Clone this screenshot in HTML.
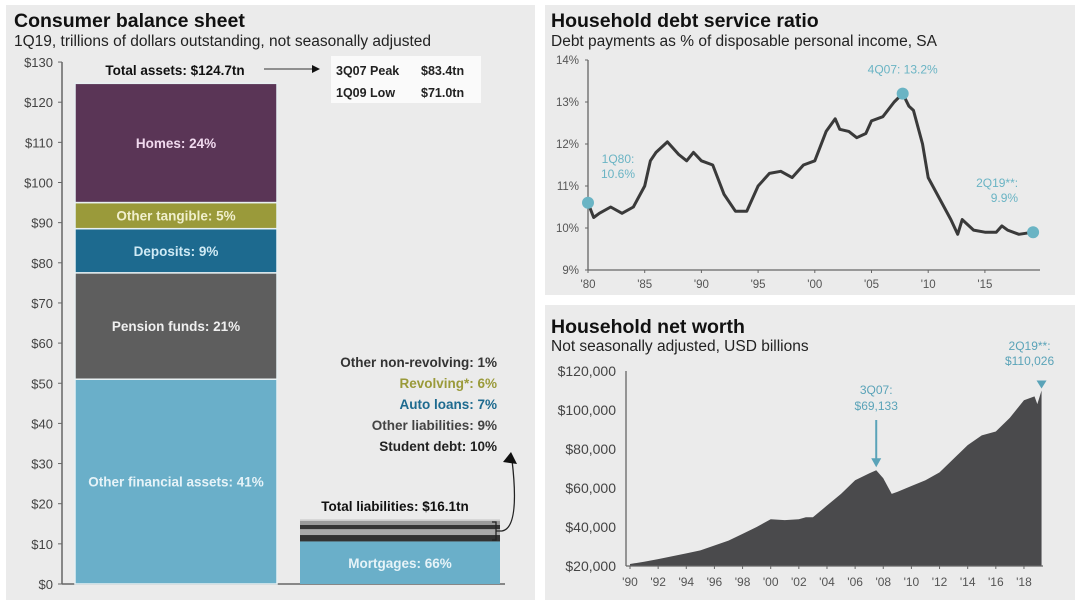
<!DOCTYPE html>
<html><head><meta charset="utf-8"><style>
body{margin:0;background:#fff;width:1080px;height:603px;overflow:hidden;font-family:"Liberation Sans",sans-serif}
svg{display:block}
</style></head><body>
<svg width="1080" height="603" viewBox="0 0 1080 603">
<rect x="6" y="5" width="529" height="595" fill="#ebebeb"/>
<rect x="545" y="5" width="530" height="290" fill="#ebebeb"/>
<rect x="545" y="305" width="530" height="295" fill="#ebebeb"/>

<text x="14" y="27" font-size="19.5" font-weight="bold" fill="#111">Consumer balance sheet</text>
<text x="14" y="46" font-size="15.5" fill="#222">1Q19, trillions of dollars outstanding, not seasonally adjusted</text>
<g id="left"></g>

<text x="551" y="27" font-size="19.5" font-weight="bold" fill="#111">Household debt service ratio</text>
<text x="551" y="46" font-size="15.5" fill="#222">Debt payments as % of disposable personal income, SA</text>
<g id="dsr"></g>

<text x="551" y="333" font-size="19.5" font-weight="bold" fill="#111">Household net worth</text>
<text x="551" y="351" font-size="15.5" fill="#222">Not seasonally adjusted, USD billions</text>
<g id="nw"></g>
</svg>
<script>
const NS="http://www.w3.org/2000/svg";
function mk(p,tag,at,txt){const e=document.createElementNS(NS,tag);for(const k in at)e.setAttribute(k,at[k]);if(txt!==undefined)e.textContent=txt;p.appendChild(e);return e;}

// ---------- Balance sheet ----------
const assetNames=["Other financial assets: 41%","Pension funds: 21%","Deposits: 9%","Other tangible: 5%","Homes: 24%"];
const assetValues=[51.0,26.5,11.0,6.5,29.7];
const assetColors=["#6aafc9","#5e5e5e","#1d6a8f","#9a9a3a","#5a3556"];
const assetText=["#e6f3f8","#f0f0f0","#cfeaf5","#f0efcc","#f0d9ee"];
const liabValues=[10.6,1.6,1.45,1.1,1.0,0.35];
const liabColors=["#6aafc9","#333","#aaa","#333","#999","#ccc"];
const balTicks=[0,10,20,30,40,50,60,70,80,90,100,110,120,130];
const L=document.getElementById('left');
const by=v=>584-v*4.015;
mk(L,'line',{x1:62,y1:by(130),x2:62,y2:by(0),stroke:'#666','stroke-width':1.5});
mk(L,'line',{x1:62,y1:by(0),x2:505,y2:by(0),stroke:'#666','stroke-width':1.5});
balTicks.forEach(t=>{mk(L,'line',{x1:58,y1:by(t),x2:62,y2:by(t),stroke:'#666'});
 const tx=mk(L,'text',{x:53,y:by(t)+5,'font-size':13,fill:'#444','text-anchor':'end'},'$'+t);
 
 });
let cum=0;
assetValues.forEach((v,i)=>{const r=mk(L,'rect',{x:75,y:by(cum+v),width:202,height:v*4.015,fill:assetColors[i],stroke:'#e8f0f2','stroke-width':1.5});
 
 
 const t=mk(L,'text',{x:176,y:by(cum+v/2)+5,'font-size':13.5,'font-weight':'bold',fill:assetText[i],'text-anchor':'middle'},assetNames[i]);
 
 
 cum+=v;});
cum=0;
liabValues.forEach((v,i)=>{const r=mk(L,'rect',{x:300,y:by(cum+v),width:200,height:v*4.015,fill:liabColors[i]});
 
 
 cum+=v;});
mk(L,'text',{x:400,y:568,'font-size':13.5,'font-weight':'bold',fill:'#e6f3f8','text-anchor':'middle'},'Mortgages: 66%');
mk(L,'text',{x:395,y:511,'font-size':13.5,'font-weight':'bold',fill:'#111','text-anchor':'middle'},'Total liabilities: $16.1tn');
mk(L,'text',{x:175,y:75,'font-size':13.5,'font-weight':'bold',fill:'#111','text-anchor':'middle'},'Total assets: $124.7tn');
mk(L,'line',{x1:264,y1:69,x2:312,y2:69,stroke:'#333'});
mk(L,'polygon',{points:'312,65 320,69 312,73',fill:'#111'});
mk(L,'rect',{x:331,y:56,width:150,height:47,fill:'#fafafa'});
mk(L,'text',{x:336,y:75,'font-size':12.5,'font-weight':'bold',fill:'#222'},'3Q07 Peak');
mk(L,'text',{x:421,y:75,'font-size':12.5,'font-weight':'bold',fill:'#222'},'$83.4tn');
mk(L,'text',{x:336,y:97,'font-size':12.5,'font-weight':'bold',fill:'#222'},'1Q09 Low');
mk(L,'text',{x:421,y:97,'font-size':12.5,'font-weight':'bold',fill:'#222'},'$71.0tn');
const lg=[["Other non-revolving: 1%","#333"],["Revolving*: 6%","#9a9a3a"],["Auto loans: 7%","#1d6a8f"],["Other liabilities: 9%","#444"],["Student debt: 10%","#222"]];
lg.forEach((d,i)=>{const t=mk(L,'text',{x:497,y:367+i*21,'font-size':13.5,'font-weight':'bold',fill:d[1],'text-anchor':'end'},d[0]);
 
 });
mk(L,'path',{d:'M492,522 h4 v18 h-4 M496,531 h6 Q520,528 512,460',fill:'none',stroke:'#222','stroke-width':1.3});
mk(L,'polygon',{points:'503,462 511,452 517,464',fill:'#111'});

// ---------- DSR ----------
const dsrYears=[1980,1980.5,1981,1982,1983,1984,1985,1985.5,1986,1987,1988,1988.7,1989.3,1990,1991,1992,1993,1994,1995,1996,1997,1998,1999,2000,2001,2001.8,2002.2,2003,2003.7,2004.5,2005,2006,2007,2007.75,2008.3,2008.7,2009.5,2010,2011,2012,2012.6,2013,2014,2015,2016,2016.5,2017,2018,2019.25];
const dsrValues=[10.6,10.25,10.35,10.5,10.35,10.5,11.0,11.6,11.8,12.05,11.75,11.6,11.8,11.6,11.5,10.8,10.4,10.4,11.0,11.3,11.35,11.2,11.5,11.6,12.3,12.6,12.35,12.3,12.15,12.25,12.55,12.65,13.0,13.2,12.9,12.8,12.0,11.2,10.7,10.2,9.85,10.2,9.95,9.9,9.9,10.05,9.95,9.85,9.9];
const dsrYTicks=[9,10,11,12,13,14];
const dsrXTicks=["'80","'85","'90","'95","'00","'05","'10","'15"];
const D=document.getElementById('dsr');
const dx=y=>588+(y-1980)*11.34, dy=v=>270-(v-9)*42;
mk(D,'line',{x1:588,y1:60,x2:588,y2:270,stroke:'#666','stroke-width':1.3});
mk(D,'line',{x1:588,y1:270,x2:1040,y2:270,stroke:'#666','stroke-width':1.3});
dsrYTicks.forEach(t=>{mk(D,'line',{x1:585,y1:dy(t),x2:588,y2:dy(t),stroke:'#666'});mk(D,'text',{x:579,y:dy(t)+4,'font-size':11.5,fill:'#555','text-anchor':'end'},t+'%');});
dsrXTicks.forEach((t,i)=>{const x=dx(1980+5*i);mk(D,'line',{x1:x,y1:270,x2:x,y2:273,stroke:'#666'});mk(D,'text',{x:x,y:288,'font-size':11.5,fill:'#555','text-anchor':'middle'},t);});
const dl=mk(D,'polyline',{points:dsrYears.map((y,i)=>dx(y)+','+dy(dsrValues[i])).join(' '),fill:'none',stroke:'#3a3a3a','stroke-width':3,'stroke-linejoin':'round'});


[[0,'1Q80:','10.6%',dx(1980)+30,-40,'middle'],[33,'4Q07: 13.2%','',dx(2007.75),-20,'middle'],[48,'2Q19**:','9.9%',dx(2019.25)-15,-45,'end']].forEach(a=>{
 const i=a[0],x=dx(dsrYears[i]),y=dy(dsrValues[i]);
 const c=mk(D,'circle',{cx:x,cy:y,r:6,fill:'#6ab4c4'});
 
 
 mk(D,'text',{x:a[3],y:y+a[4],'font-size':12,fill:'#6ab4c4','text-anchor':a[5]},a[1]);
 if(a[2])mk(D,'text',{x:a[3],y:y+a[4]+15,'font-size':12,fill:'#6ab4c4','text-anchor':a[5]},a[2]);});

// ---------- Net worth ----------
const nwYears=[1990,1991,1992,1993,1994,1995,1996,1997,1998,1999,2000,2001,2002,2002.5,2003,2004,2005,2006,2007,2007.5,2008,2008.6,2009,2010,2011,2012,2013,2014,2015,2016,2017,2018,2018.75,2018.95,2019.25];
const nwValues=[21,22.2,23.5,25,26.5,28,30.5,33,36.5,40,44,43.5,44,45,45,51,57,64,67.5,69.1,65,57,58,61,64,68,75,82,87,89,96,105,107,103,110];
const nwYTicks=[20,40,60,80,100,120];
const nwXTicks=["'90","'92","'94","'96","'98","'00","'02","'04","'06","'08","'10","'12","'14","'16","'18"];
const N=document.getElementById('nw');
const nx=y=>630+(y-1990)*14.07, ny=v=>566-(v-20)*1.95;
let d='M'+nx(1990)+','+ny(20);nwYears.forEach((y,i)=>d+=' L'+nx(y)+','+ny(nwValues[i]));d+=' L'+nx(2019.25)+','+ny(20)+' Z';
const ar=mk(N,'path',{d:d,fill:'#4a4a4c'});


mk(N,'line',{x1:626,y1:371,x2:626,y2:566,stroke:'#666','stroke-width':1.3});
mk(N,'line',{x1:626,y1:566,x2:1043,y2:566,stroke:'#666','stroke-width':1.3});
nwYTicks.forEach(t=>{mk(N,'text',{x:616,y:ny(t)+5,'font-size':14,fill:'#444','text-anchor':'end'},'$'+t+',000');});
nwXTicks.forEach((t,i)=>{const x=nx(1990+2*i);mk(N,'line',{x1:x,y1:566,x2:x,y2:569,stroke:'#666'});mk(N,'text',{x:x,y:586,'font-size':12,fill:'#555','text-anchor':'middle'},t);});
const px=nx(2007.5),py=ny(69.1);
mk(N,'text',{x:px,y:394,'font-size':12,fill:'#5aa3b8','text-anchor':'middle'},'3Q07:');
mk(N,'text',{x:px,y:410,'font-size':12,fill:'#5aa3b8','text-anchor':'middle'},'$69,133');
mk(N,'line',{x1:px,y1:420,x2:px,y2:py-10,stroke:'#5aa3b8','stroke-width':2});
mk(N,'polygon',{points:(px-5)+','+(py-12)+' '+(px+5)+','+(py-12)+' '+px+','+(py-3),fill:'#5aa3b8'});
const ex=nx(2019.25),ey=ny(110);
mk(N,'text',{x:ex-12,y:350,'font-size':12,fill:'#5aa3b8','text-anchor':'middle'},'2Q19**:');
mk(N,'text',{x:ex-12,y:365,'font-size':12,fill:'#5aa3b8','text-anchor':'middle'},'$110,026');
mk(N,'polygon',{points:(ex-5)+','+(ey-10)+' '+(ex+5)+','+(ey-10)+' '+ex+','+(ey-2),fill:'#5aa3b8'});
</script>
</body></html>
